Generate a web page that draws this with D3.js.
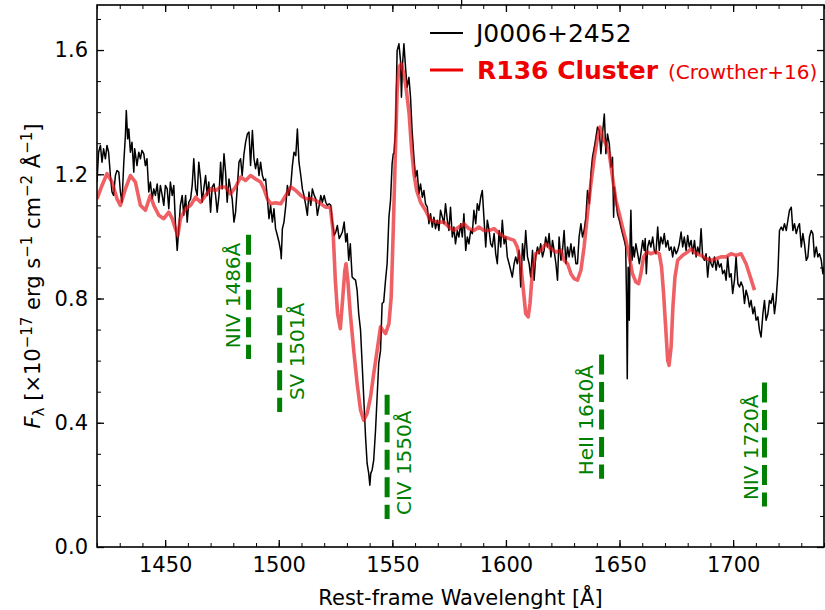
<!DOCTYPE html>
<html>
<head>
<meta charset="utf-8">
<script src="https://cdn.jsdelivr.net/npm/d3@7"></script>
<style>
  body { margin: 0; background: #fff; }
  svg { font-family: "DejaVu Sans", sans-serif; }
</style>
</head>
<body>
<svg id="chart" width="825" height="610"></svg>
<script>
// Observed spectrum of J0006+2452: [rest-frame wavelength (A), flux (1e-17 erg/s/cm2/A)]
const j0006Spectrum = [
  [1420.0,1.175],[1420.7,1.271],[1421.5,1.293],[1422.2,1.239],[1422.9,1.282],[1423.7,1.250],[1424.4,1.293],[1425.1,1.271],
  [1425.9,1.196],[1426.6,1.143],[1427.3,1.132],[1428.1,1.196],[1428.8,1.212],[1429.6,1.207],[1430.3,1.143],[1431.0,1.110],
  [1431.8,1.239],[1432.5,1.325],[1432.9,1.405],[1433.5,1.314],[1434.0,1.346],[1434.7,1.271],[1435.4,1.303],[1436.2,1.207],
  [1436.6,1.282],[1437.2,1.250],[1437.6,1.228],[1438.4,1.271],[1439.1,1.250],[1439.8,1.277],[1440.6,1.266],[1441.3,1.228],
  [1442.0,1.250],[1442.8,1.143],[1443.5,1.175],[1444.3,1.121],[1445.0,1.153],[1445.7,1.132],[1446.5,1.169],[1447.2,1.110],
  [1447.9,1.164],[1448.7,1.132],[1449.4,1.100],[1450.1,1.164],[1450.9,1.153],[1451.6,1.089],[1452.3,1.175],[1453.1,1.132],
  [1453.8,1.164],[1454.5,1.046],[1455.3,0.955],[1456.0,1.025],[1456.7,1.100],[1457.5,1.132],[1458.2,1.068],[1459.0,1.132],
  [1459.7,1.046],[1460.4,1.110],[1461.2,1.121],[1461.9,1.164],[1462.6,1.250],[1463.4,1.153],[1464.1,1.132],[1464.8,1.239],
  [1465.6,1.185],[1466.3,1.110],[1467.0,1.153],[1467.8,1.196],[1468.5,1.132],[1469.2,1.175],[1470.0,1.078],[1470.7,1.159],
  [1471.5,1.169],[1472.2,1.132],[1472.9,1.078],[1473.7,1.132],[1474.4,1.239],[1475.1,1.153],[1475.9,1.266],[1476.6,1.207],
  [1477.3,1.110],[1478.1,1.185],[1478.8,1.153],[1479.5,1.121],[1480.3,1.046],[1481.0,1.078],[1481.7,1.153],[1482.5,1.239],
  [1483.2,1.250],[1483.9,1.196],[1484.7,1.266],[1485.4,1.303],[1486.2,1.330],[1486.9,1.336],[1487.6,1.228],[1488.4,1.341],
  [1489.1,1.250],[1489.8,1.218],[1490.6,1.250],[1491.3,1.196],[1492.0,1.239],[1492.8,1.196],[1493.5,1.180],[1494.2,1.185],
  [1495.0,1.121],[1495.7,1.057],[1496.4,1.100],[1497.2,1.046],[1497.9,1.089],[1498.6,1.025],[1499.4,1.003],[1500.1,0.982],
  [1500.9,0.950],[1501.1,0.928],[1501.6,1.025],[1502.3,1.046],[1503.1,1.100],[1503.8,1.164],[1504.5,1.132],[1505.3,1.164],
  [1506.0,1.228],[1506.7,1.271],[1507.5,1.260],[1508.2,1.346],[1508.9,1.239],[1509.7,1.196],[1510.4,1.153],[1511.1,1.132],
  [1511.9,1.100],[1512.6,1.068],[1513.3,1.143],[1514.1,1.100],[1514.8,1.153],[1515.6,1.132],[1516.3,1.121],[1517.0,1.068],
  [1517.8,1.100],[1518.5,1.132],[1519.2,1.110],[1520.0,1.132],[1520.7,1.110],[1521.4,1.100],[1522.2,1.105],[1522.9,1.100],
  [1523.6,1.046],[1524.4,1.003],[1525.1,1.014],[1525.8,1.035],[1526.6,0.993],[1527.3,1.003],[1528.0,1.014],[1528.8,1.046],
  [1529.5,0.982],[1530.1,1.009],[1530.8,0.923],[1531.5,0.976],[1532.3,0.869],[1533.0,0.864],[1533.8,0.859],[1534.5,0.826],
  [1535.2,0.751],[1536.0,0.698],[1536.7,0.591],[1537.4,0.483],[1538.2,0.355],[1538.9,0.269],[1539.6,0.237],[1540.1,0.199],
  [1540.5,0.237],[1541.1,0.248],[1541.8,0.280],[1542.6,0.376],[1543.3,0.483],[1544.0,0.591],[1544.8,0.633],[1545.5,0.784],
  [1546.2,0.789],[1547.0,0.859],[1547.7,0.912],[1548.5,1.062],[1549.2,1.116],[1549.9,1.234],[1550.4,1.266],[1550.7,1.266],
  [1551.4,1.341],[1552.1,1.598],[1552.9,1.620],[1553.6,1.566],[1554.0,1.448],[1554.5,1.555],[1555.1,1.620],[1555.8,1.545],
  [1556.5,1.480],[1557.3,1.512],[1558.0,1.448],[1558.7,1.341],[1559.5,1.255],[1560.2,1.191],[1560.9,1.212],[1561.7,1.137],
  [1562.4,1.169],[1563.2,1.126],[1563.9,1.148],[1564.6,1.105],[1565.4,1.094],[1566.1,1.041],[1566.8,1.073],[1567.6,1.030],
  [1568.3,1.062],[1569.0,1.025],[1569.8,1.052],[1570.5,1.019],[1571.2,1.084],[1572.0,1.062],[1572.7,1.041],[1573.4,1.105],
  [1574.2,1.052],[1574.9,1.019],[1575.6,1.094],[1576.4,0.998],[1577.1,1.030],[1577.8,0.976],[1578.6,1.019],[1579.3,0.998],
  [1580.1,1.041],[1580.8,0.998],[1581.5,1.073],[1582.3,0.955],[1583.0,0.998],[1583.7,0.976],[1584.5,1.019],[1585.2,1.009],
  [1585.9,1.084],[1586.7,1.041],[1587.4,1.105],[1588.1,1.084],[1588.9,1.126],[1589.6,1.148],[1590.3,1.062],[1591.1,0.966],
  [1591.8,1.052],[1592.6,1.019],[1593.3,0.976],[1594.0,0.966],[1594.8,1.009],[1595.5,0.944],[1596.2,0.912],[1597.0,1.019],
  [1597.7,0.966],[1598.4,1.052],[1599.2,0.976],[1599.9,0.998],[1600.6,0.934],[1601.4,0.912],[1602.1,0.891],[1602.8,0.869],
  [1603.6,0.912],[1604.3,0.934],[1605.0,0.912],[1605.8,0.955],[1606.5,0.837],[1607.3,0.976],[1608.0,0.923],[1608.7,1.019],
  [1609.5,0.934],[1610.2,0.912],[1610.9,0.869],[1611.7,0.955],[1612.4,0.859],[1613.1,0.934],[1613.9,0.966],[1614.6,0.944],
  [1615.3,0.976],[1616.1,0.934],[1616.8,0.955],[1617.5,0.998],[1618.3,0.966],[1619.0,1.009],[1619.8,0.934],[1620.5,0.987],
  [1621.2,0.955],[1622.0,0.912],[1622.7,0.859],[1623.4,0.998],[1624.2,0.923],[1624.9,0.955],[1625.6,1.019],[1626.4,0.912],
  [1627.1,0.966],[1627.8,0.934],[1628.6,0.976],[1629.3,0.934],[1630.0,0.966],[1630.8,0.912],[1631.5,0.912],[1632.2,0.998],
  [1633.0,1.041],[1633.7,0.998],[1634.4,1.019],[1635.2,1.062],[1635.9,1.148],[1636.7,1.105],[1637.4,1.202],[1638.1,1.255],
  [1638.9,1.287],[1639.6,1.319],[1640.3,1.352],[1641.1,1.341],[1641.8,1.266],[1642.5,1.330],[1643.3,1.394],[1644.0,1.266],
  [1644.7,1.330],[1645.5,1.298],[1646.2,1.223],[1646.9,1.255],[1647.4,1.062],[1647.7,1.159],[1648.4,1.116],[1649.1,1.073],
  [1649.9,1.052],[1650.6,1.030],[1651.3,1.009],[1652.1,0.987],[1652.7,0.966],[1653.1,0.794],[1653.4,0.542],[1653.8,0.901],
  [1654.3,0.730],[1654.7,1.009],[1655.0,1.084],[1655.5,0.923],[1656.0,0.966],[1656.5,0.934],[1657.2,0.976],[1658.0,0.944],
  [1658.7,0.912],[1659.4,0.944],[1660.2,0.987],[1660.9,0.955],[1661.3,0.993],[1661.8,0.880],[1662.4,0.966],[1663.1,0.987],
  [1663.8,0.966],[1664.6,0.998],[1665.3,0.955],[1666.0,0.944],[1666.8,1.030],[1667.5,0.955],[1668.2,0.998],[1669.0,0.976],
  [1669.7,1.009],[1670.4,0.966],[1671.2,0.987],[1671.9,0.955],[1672.7,0.966],[1673.4,0.934],[1674.1,0.966],[1674.9,0.944],
  [1675.6,0.955],[1676.3,0.976],[1677.1,1.014],[1677.8,0.966],[1678.5,0.998],[1679.3,0.955],[1680.0,1.003],[1680.7,0.966],
  [1681.5,0.987],[1682.2,0.944],[1683.0,0.987],[1683.7,0.934],[1684.4,0.966],[1685.2,0.944],[1685.9,1.025],[1686.6,0.934],
  [1687.4,0.923],[1688.1,0.944],[1688.8,0.869],[1689.6,0.934],[1690.3,0.912],[1691.0,0.901],[1691.8,0.934],[1692.5,0.891],
  [1693.2,0.923],[1694.0,0.901],[1694.7,0.912],[1695.4,0.880],[1696.2,0.891],[1696.9,0.859],[1697.6,0.934],[1698.4,0.869],
  [1699.1,0.880],[1699.8,0.816],[1700.6,0.859],[1701.3,0.934],[1702.1,0.848],[1702.8,0.837],[1703.5,0.853],[1704.3,0.837],
  [1705.0,0.784],[1705.7,0.827],[1706.5,0.805],[1707.2,0.773],[1707.9,0.794],[1708.7,0.751],[1709.4,0.773],[1710.1,0.730],
  [1710.9,0.741],[1711.6,0.698],[1712.3,0.676],[1713.1,0.751],[1713.8,0.794],[1714.5,0.730],[1715.3,0.751],[1716.0,0.794],
  [1716.7,0.784],[1717.5,0.816],[1718.2,0.751],[1718.9,0.794],[1719.7,0.880],[1720.4,1.019],[1721.2,1.030],[1721.9,1.019],
  [1722.6,1.041],[1723.4,1.019],[1724.1,1.052],[1724.8,1.084],[1725.6,1.094],[1726.3,1.019],[1727.0,1.041],[1727.8,1.009],
  [1728.5,1.030],[1729.2,1.041],[1730.0,0.966],[1730.7,1.009],[1731.4,0.976],[1732.2,0.923],[1732.9,0.934],[1733.6,0.998],
  [1734.4,1.019],[1735.1,1.009],[1735.8,0.934],[1736.6,0.966],[1737.3,0.934],[1738.0,0.944],[1738.8,0.923],[1739.5,0.880],
  [1740.2,0.901]
];

// R136 cluster spectrum (Crowther+16), same units
const r136Spectrum = [
  [1420.0,1.121],[1422.2,1.164],[1424.4,1.202],[1426.6,1.175],[1428.8,1.121],[1430.3,1.100],[1432.5,1.153],[1434.7,1.196],
  [1436.9,1.175],[1439.1,1.100],[1441.3,1.084],[1443.5,1.132],[1445.0,1.100],[1447.2,1.068],[1449.4,1.057],[1451.6,1.078],
  [1453.1,1.057],[1454.5,1.025],[1455.6,1.003],[1456.7,1.057],[1459.0,1.089],[1461.2,1.100],[1463.4,1.126],[1465.6,1.110],
  [1467.8,1.132],[1470.0,1.153],[1472.2,1.148],[1474.4,1.159],[1476.6,1.159],[1478.8,1.137],[1481.0,1.159],[1483.2,1.191],
  [1485.4,1.180],[1487.6,1.196],[1489.8,1.185],[1492.0,1.175],[1493.5,1.153],[1495.0,1.121],[1496.4,1.105],[1498.6,1.108],
  [1500.9,1.105],[1503.1,1.132],[1505.3,1.159],[1507.5,1.148],[1509.7,1.132],[1511.9,1.121],[1514.1,1.121],[1516.3,1.116],
  [1518.5,1.105],[1520.7,1.094],[1522.7,1.094],[1523.9,1.019],[1524.9,0.859],[1525.9,0.751],[1527.1,0.703],[1528.2,0.805],
  [1529.1,0.891],[1529.6,0.912],[1530.4,0.859],[1531.5,0.751],[1533.0,0.633],[1534.5,0.526],[1536.0,0.441],[1537.4,0.408],
  [1538.9,0.430],[1540.4,0.483],[1541.8,0.558],[1543.3,0.633],[1544.8,0.709],[1545.8,0.698],[1547.0,0.687],[1548.5,0.719],
  [1549.5,0.805],[1550.4,1.019],[1551.4,1.287],[1552.1,1.469],[1552.9,1.545],[1553.9,1.555],[1555.1,1.523],[1556.2,1.469],
  [1557.4,1.394],[1558.4,1.287],[1559.5,1.202],[1560.7,1.148],[1562.4,1.110],[1564.6,1.084],[1566.8,1.052],[1569.8,1.046],
  [1572.7,1.046],[1574.9,1.030],[1577.1,1.019],[1579.3,1.030],[1581.5,1.041],[1583.7,1.025],[1585.9,1.019],[1588.1,1.030],
  [1590.3,1.019],[1592.6,1.019],[1594.8,1.025],[1597.0,1.009],[1599.2,0.998],[1601.4,0.993],[1603.6,0.987],[1605.0,0.966],
  [1606.5,0.912],[1607.7,0.826],[1608.7,0.751],[1609.8,0.741],[1610.6,0.784],[1611.7,0.891],[1613.1,0.944],[1615.3,0.955],
  [1617.5,0.976],[1619.8,0.960],[1622.0,0.950],[1624.2,0.955],[1625.6,0.923],[1627.1,0.912],[1628.6,0.880],[1630.0,0.864],
  [1631.5,0.859],[1633.0,0.891],[1634.4,0.966],[1635.9,1.073],[1637.4,1.169],[1638.9,1.255],[1640.3,1.319],[1641.4,1.352],
  [1642.5,1.319],[1644.0,1.298],[1645.5,1.266],[1646.9,1.191],[1648.4,1.116],[1649.9,1.073],[1651.3,1.030],[1652.8,0.987],
  [1654.3,0.934],[1655.7,0.880],[1657.2,0.853],[1658.4,0.848],[1659.4,0.880],[1660.6,0.934],[1662.1,0.950],[1663.8,0.944],
  [1666.0,0.950],[1667.5,0.944],[1668.5,0.901],[1669.4,0.816],[1670.3,0.709],[1671.2,0.601],[1671.8,0.585],[1672.7,0.644],
  [1673.5,0.773],[1674.4,0.869],[1675.6,0.923],[1677.8,0.939],[1680.0,0.950],[1681.5,0.960],[1683.7,0.944],[1685.9,0.939],
  [1688.1,0.928],[1690.3,0.923],[1692.5,0.928],[1694.7,0.934],[1696.9,0.934],[1699.1,0.944],[1701.3,0.939],[1703.5,0.944],
  [1705.7,0.912],[1707.6,0.869],[1709.4,0.827]
];

// Marked lines: rest wavelength of the marker, its vertical extent, its label
const lineNames = ["NIV 1486Å", "SV 1501Å", "CIV 1550Å", "HeII 1640Å", "NIV 1720Å"];
const lineWaves = [1486.7, 1500.4, 1547.7, 1642.1, 1713.8];
const lineTops = [1.005, 0.835, 0.49, 0.62, 0.53];
const lineBottoms = [0.605, 0.435, 0.09, 0.22, 0.13];
// where each rotated label starts (data units)
const labelWaves = [1483.0, 1511.3, 1558.4, 1638.3, 1711.0];
const labelFluxes = [0.64, 0.473, 0.103, 0.231, 0.151];

// Axes
const xDomain = [1420, 1740];
const yDomain = [0, 1.745];
const xMajor = [1450, 1500, 1550, 1600, 1650, 1700];
const xMinor = d3.range(1420, 1741, 10);
const yMajor = [0.0, 0.4, 0.8, 1.2, 1.6];
const yMinor = d3.range(0, 17.5, 1).map(d => d / 10);

const margin = { top: 5, right: 1, bottom: 63, left: 97 };
const svg = d3.select("#chart");
const W = +svg.attr("width"), H = +svg.attr("height");
const width = W - margin.left - margin.right;
const height = H - margin.top - margin.bottom;

const x = d3.scaleLinear().domain(xDomain).range([0, width]);
const y = d3.scaleLinear().domain(yDomain).range([height, 0]);

const g = svg.append("g").attr("transform", `translate(${margin.left},${margin.top})`);

g.append("clipPath").attr("id", "plot-clip")
  .append("rect").attr("width", width).attr("height", height);

// Spectra
const line = d3.line().x(d => x(d[0])).y(d => y(d[1]));

g.append("path")
  .datum(j0006Spectrum)
  .attr("clip-path", "url(#plot-clip)")
  .attr("fill", "none")
  .attr("stroke", "#000")
  .attr("stroke-width", 1.5)
  .attr("stroke-linejoin", "round")
  .attr("d", line);

g.append("path")
  .datum(r136Spectrum)
  .attr("clip-path", "url(#plot-clip)")
  .attr("fill", "none")
  .attr("stroke", "#e8141a")
  .attr("stroke-opacity", 0.68)
  .attr("stroke-width", 3.6)
  .attr("stroke-linejoin", "round")
  .attr("d", line);

// Line markers, dashed from the top down
const markers = lineNames.map((name, i) => ({
  name, wave: lineWaves[i], top: lineTops[i], bottom: lineBottoms[i],
  lx: labelWaves[i], ly: labelFluxes[i]
}));

g.selectAll(".marker")
  .data(markers)
  .enter()
  .append("line")
  .attr("class", "marker")
  .attr("x1", d => x(d.wave)).attr("x2", d => x(d.wave))
  .attr("y1", d => y(d.top)).attr("y2", d => y(d.bottom))
  .attr("stroke", "#008000")
  .attr("stroke-width", 5)
  .attr("stroke-dasharray", "20,7.5");

g.selectAll(".marker-label")
  .data(markers)
  .enter()
  .append("text")
  .attr("class", "marker-label")
  .attr("transform", d => `translate(${x(d.lx)},${y(d.ly)}) rotate(-90)`)
  .attr("fill", "#008000")
  .attr("font-size", 20)
  .text(d => d.name);

// Ticks on all four sides, pointing inward
function tickStyle(sel, w) {
  sel.select(".domain").remove();
  sel.selectAll(".tick line").attr("stroke", "#000").attr("stroke-width", w);
  sel.selectAll(".tick text").attr("fill", "#000").attr("font-size", 21)
    .attr("font-family", "DejaVu Sans, sans-serif");
}

g.append("g").attr("transform", `translate(0,${height})`)
  .call(d3.axisBottom(x).tickValues(xMinor).tickSize(-4).tickFormat(""))
  .call(tickStyle, 1);
g.append("g").attr("transform", `translate(0,${height})`)
  .call(d3.axisBottom(x).tickValues(xMajor).tickSize(-7).tickPadding(10).tickFormat(d3.format("d")))
  .call(tickStyle, 1.3);
g.append("g")
  .call(d3.axisTop(x).tickValues(xMinor).tickSize(-4).tickFormat(""))
  .call(tickStyle, 1);
g.append("g")
  .call(d3.axisTop(x).tickValues(xMajor).tickSize(-7).tickFormat(""))
  .call(tickStyle, 1.3);

g.append("g")
  .call(d3.axisLeft(y).tickValues(yMinor).tickSize(-4).tickFormat(""))
  .call(tickStyle, 1);
g.append("g")
  .call(d3.axisLeft(y).tickValues(yMajor).tickSize(-7).tickPadding(9).tickFormat(d3.format(".1f")))
  .call(tickStyle, 1.3);
g.append("g").attr("transform", `translate(${width},0)`)
  .call(d3.axisRight(y).tickValues(yMinor).tickSize(-4).tickFormat(""))
  .call(tickStyle, 1);
g.append("g").attr("transform", `translate(${width},0)`)
  .call(d3.axisRight(y).tickValues(yMajor).tickSize(-7).tickFormat(""))
  .call(tickStyle, 1.3);

// Frame
g.append("rect")
  .attr("width", width).attr("height", height)
  .attr("fill", "none").attr("stroke", "#000").attr("stroke-width", 1.6);

// stray mark above the frame (cropped from the original figure)
svg.append("line")
  .attr("x1", margin.left + x(1580.5)).attr("x2", margin.left + x(1580.5))
  .attr("y1", 0).attr("y2", margin.top)
  .attr("stroke", "#000").attr("stroke-width", 1.3);

// Axis titles
svg.append("text")
  .attr("x", margin.left + width / 2)
  .attr("y", 605)
  .attr("text-anchor", "middle")
  .attr("font-size", 21)
  .text("Rest-frame Wavelenght [Å]");

const yTitle = svg.append("text")
  .attr("transform", `translate(40,${margin.top + height / 2}) rotate(-90)`)
  .attr("text-anchor", "middle")
  .attr("font-size", 21);
const titleParts = [
  { t: "F", style: "italic" },
  { t: "λ", shift: 4, small: true },
  { t: " [×10", shift: -4 },
  { t: "−17", shift: -8, small: true },
  { t: " erg s", shift: 8 },
  { t: "−1", shift: -8, small: true },
  { t: " cm", shift: 8 },
  { t: "−2", shift: -8, small: true },
  { t: " Å", shift: 8 },
  { t: "−1", shift: -8, small: true },
  { t: "]", shift: 8 }
];
titleParts.forEach(p => {
  const ts = yTitle.append("tspan").text(p.t);
  if (p.style) ts.attr("font-style", p.style);
  if (p.shift) ts.attr("dy", p.shift);
  if (p.small) ts.attr("font-size", 15);
});

// Legend
const legend = svg.append("g");
legend.append("line").attr("x1", 430).attr("x2", 463).attr("y1", 33).attr("y2", 33)
  .attr("stroke", "#000").attr("stroke-width", 1.8);
legend.append("text").attr("x", 476).attr("y", 42).attr("font-size", 25).text("J0006+2452");
legend.append("line").attr("x1", 430).attr("x2", 463).attr("y1", 70).attr("y2", 70)
  .attr("stroke", "#ee0000").attr("stroke-width", 3);
legend.append("text").attr("x", 477).attr("y", 79).attr("font-size", 25)
  .attr("font-weight", "bold").attr("fill", "#ee0000").text("R136 Cluster");
legend.append("text").attr("x", 668).attr("y", 79).attr("font-size", 20)
  .attr("fill", "#ee0000").text("(Crowther+16)");
</script>
</body>
</html>
